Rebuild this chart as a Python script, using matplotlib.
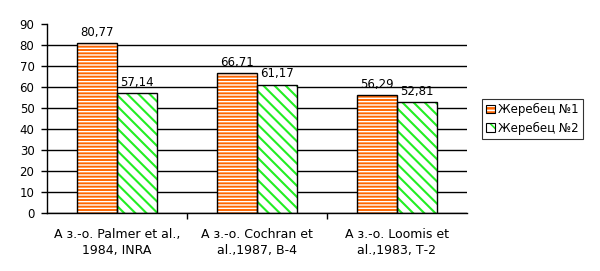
import numpy as np
import matplotlib
matplotlib.use("Agg")
import matplotlib.pyplot as plt
from matplotlib.patches import Patch
from matplotlib.legend_handler import HandlerTuple

# подписи групп и значения
groups = ["А з.-о. Palmer et al.,\n1984, INRA",
          "А з.-о. Cochran et\nal.,1987, В-4",
          "А з.-о. Loomis et\nal.,1983, Т-2"]
stallion1 = [80.77, 66.71, 56.29]
stallion2 = [57.14, 61.17, 52.81]
series_names = ["Жеребец №1", "Жеребец №2"]
yticks = [0, 10, 20, 30, 40, 50, 60, 70, 80, 90]

orange = "#FF6600"
green = "#22EE22"

plt.rcParams['font.family'] = ['DejaVu Sans']
plt.rcParams['font.size'] = 8.5

fig = plt.figure(figsize=(6.0, 2.71), dpi=100)
ax = fig.add_axes([0.0783, 0.214, 0.6997, 0.697])

x = np.arange(len(groups))
w = 0.285


def hatched_bars(xs, vals, face, hcolor, hatch, hlw):
    bars = ax.bar(xs, vals, w, color=face, edgecolor=hcolor, hatch=hatch,
                  linewidth=0, zorder=3)
    for b in bars:
        try:
            b.set_hatch_linewidth(hlw)
        except AttributeError:
            pass
    ax.bar(xs, vals, w, fill=False, edgecolor="black", linewidth=1.0, zorder=4)
    return bars


plt.rcParams['hatch.linewidth'] = 1.0
hatched_bars(x - w / 2, stallion1, orange, "white", "-----", 1.0)
plt.rcParams['hatch.linewidth'] = 1.5
hatched_bars(x + w / 2, stallion2, "white", green, "\\\\\\", 1.5)

def fmt(v):
    return ("%.2f" % v).replace(".", ",")

for xi, v in zip(x - w / 2, stallion1):
    ax.text(xi, v + 2, fmt(v), ha="center", va="bottom", zorder=5)
for xi, v in zip(x + w / 2, stallion2):
    ax.text(xi, v + 2, fmt(v), ha="center", va="bottom", zorder=5)

ax.set_xlim(-0.5, 2.5)
ax.set_ylim(0, 90)
ax.set_yticks(yticks)
ax.set_xticks(x)
ax.set_xticklabels(groups, linespacing=1.3, fontsize=9)
ax.set_xticks([0.5, 1.5], minor=True)
ax.tick_params(axis="x", which="major", length=0, pad=11)
ax.tick_params(axis="x", which="minor", length=4, width=1, direction="out")
ax.tick_params(axis="y", length=4, width=1, direction="out", pad=5)

ax.yaxis.grid(True, color="black", linewidth=1.0, zorder=0)
ax.get_ygridlines()[-1].set_visible(False)
ax.set_axisbelow(True)

for s in ["top", "right"]:
    ax.spines[s].set_visible(False)
for s in ["left", "bottom"]:
    ax.spines[s].set_linewidth(1.0)
    ax.spines[s].set_zorder(6)

# маркеры легенды: штриховка + чёрная рамка поверх
plt.rcParams['hatch.linewidth'] = 1.2
h1 = (Patch(facecolor=orange, edgecolor="white", hatch="----", linewidth=0),
      Patch(fill=False, edgecolor="black", linewidth=0.8))
h2 = (Patch(facecolor="white", edgecolor=green, hatch="\\\\", linewidth=0),
      Patch(fill=False, edgecolor="black", linewidth=0.8))
leg = fig.legend([h1, h2], series_names, loc="upper left",
                 handler_map={tuple: HandlerTuple(ndivide=1)},
                 bbox_to_anchor=(0.803, 0.635), frameon=True, fancybox=False,
                 handlelength=0.8, handleheight=0.7, handletextpad=0.25,
                 borderpad=0.35, labelspacing=0.45, borderaxespad=0)
leg.get_frame().set_edgecolor("black")
leg.get_frame().set_linewidth(0.8)

fig.savefig("out.png", dpi=100)
